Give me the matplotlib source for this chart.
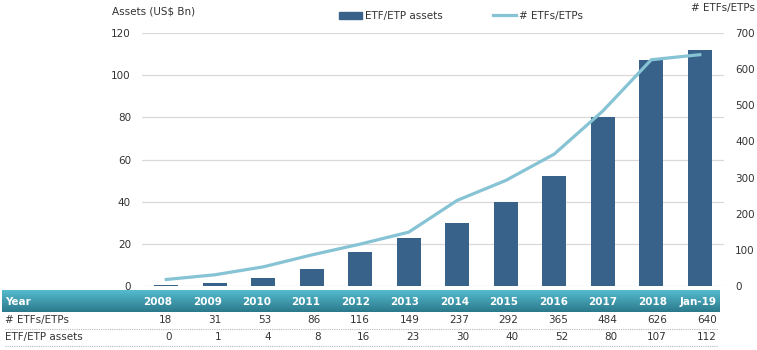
import numpy as np
import matplotlib.pyplot as plt
from matplotlib.lines import Line2D
from matplotlib.colors import LinearSegmentedColormap

# Data
years = ['2008', '2009', '2010', '2011', '2012', '2013', '2014', '2015', '2016', '2017', '2018', 'Jan-19']
assets = [0.4, 1.4, 4, 8, 16, 23, 30, 40, 52, 80, 107, 112]
n_etfs = [18, 31, 53, 86, 116, 149, 237, 292, 365, 484, 626, 640]
assets_labels = [0, 1, 4, 8, 16, 23, 30, 40, 52, 80, 107, 112]

bar_color = '#38628a'
line_color = '#86c3d4'
text_color = '#333333'
fs = 7.5

W, H = 757, 350
fig = plt.figure(figsize=(W / 100, H / 100), dpi=100)
plt.rcParams['font.family'] = 'DejaVu Sans'

# main plot area
ax = fig.add_axes([142 / W, (H - 286) / H, (724 - 142) / W, (286 - 33) / H])
x = np.arange(len(years))
ax.bar(x, assets, width=0.5, color=bar_color, zorder=2, label='ETF/ETP assets')
ax.set_xlim(-0.5, len(years) - 0.5)
ax.set_ylim(0, 120)
ax.set_yticks(np.arange(0, 121, 20))
ax.set_xticks([])
ax.grid(axis='y', color='#d9d9d9', linewidth=0.9, zorder=0)
ax.tick_params(axis='y', length=0, pad=8, labelsize=fs, labelcolor=text_color)
for s in ax.spines.values():
    s.set_visible(False)

ax2 = ax.twinx()
ax2.plot(x, n_etfs, color=line_color, linewidth=2.3, zorder=3, label='# ETFs/ETPs')
ax2.set_ylim(0, 700)
ax2.set_yticks(np.arange(0, 701, 100))
ax2.tick_params(axis='y', length=0, pad=8, labelsize=fs, labelcolor=text_color)
for s in ax2.spines.values():
    s.set_visible(False)

# axis titles
fig.text(112 / W, (H - 12) / H, 'Assets (US$ Bn)', fontsize=fs, color=text_color, va='center')
fig.text(755 / W, (H - 8) / H, '# ETFs/ETPs', fontsize=fs, color=text_color, va='center', ha='right')

# legend
handles = [plt.Rectangle((0, 0), 1, 1, color=bar_color),
           Line2D([0], [0], color=line_color, linewidth=2.3)]
fig.legend(handles, ['ETF/ETP assets', '# ETFs/ETPs'], loc='center',
           bbox_to_anchor=(461 / W, (H - 16) / H), ncol=2, frameon=False,
           fontsize=fs, handlelength=2.2, handletextpad=0.3, columnspacing=4.8,
           labelcolor=text_color)

# table header band with gradient
hax = fig.add_axes([2 / W, (H - 312) / H, (720 - 2) / W, 22 / H])
grad = np.linspace(0, 1, 50).reshape(-1, 1)
cmap = LinearSegmentedColormap.from_list('hdr', ['#55bbcf', '#2b7a8b'])
hax.imshow(grad, aspect='auto', cmap=cmap, extent=[0, 1, 0, 1])
hax.axis('off')

col_right = [(172 + i * 49.5) / W for i in range(len(years))]
y_head = (H - 302) / H
y_r1 = (H - 320) / H
y_r2 = (H - 337) / H

fig.text(5 / W, y_head, 'Year', color='white', fontsize=fs, fontweight='bold', va='center')
fig.text(5 / W, y_r1, '# ETFs/ETPs', color=text_color, fontsize=fs, va='center')
fig.text(5 / W, y_r2, 'ETF/ETP assets', color=text_color, fontsize=fs, va='center')
for i, yr in enumerate(years):
    fig.text(col_right[i], y_head, yr, color='white', fontsize=fs, fontweight='bold', va='center', ha='right')
    fig.text(col_right[i], y_r1, str(n_etfs[i]), color=text_color, fontsize=fs, va='center', ha='right')
    fig.text(col_right[i], y_r2, str(assets_labels[i]), color=text_color, fontsize=fs, va='center', ha='right')

for yy in (329, 346):
    fig.add_artist(Line2D([5 / W, 718 / W], [(H - yy) / H] * 2, color='#bbbbbb',
                          linewidth=0.8, linestyle=(0, (1, 1))))

fig.savefig('out.png', dpi=100)
